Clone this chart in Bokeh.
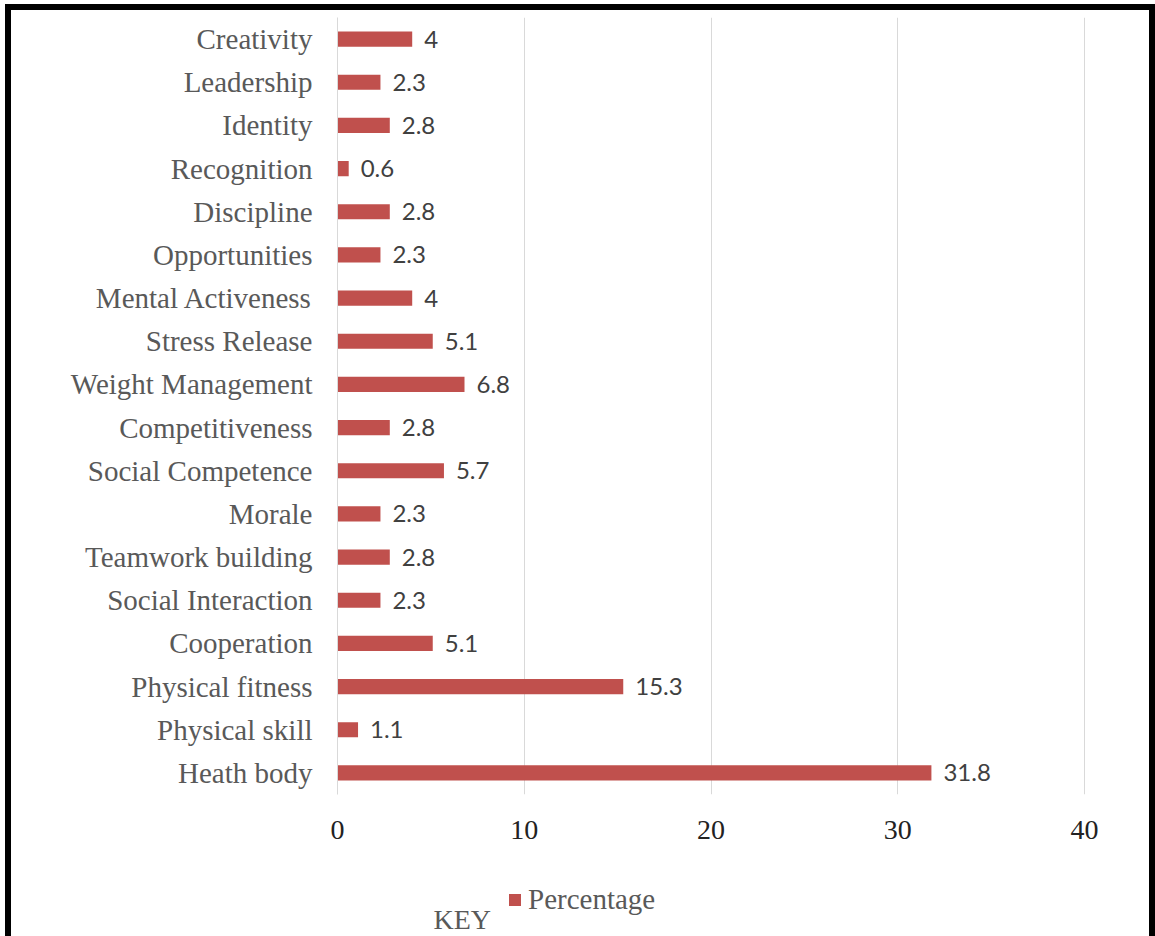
from bokeh.plotting import figure
from bokeh.layouts import column
from bokeh.models import (Range1d, FactorRange, FixedTicker, Legend, LegendItem,
                          Label, ColumnDataSource, LabelSet)
from bokeh.core.properties import value
from bokeh.embed import file_html
from bokeh.resources import INLINE

categories = ["Creativity", "Leadership", "Identity", "Recognition", "Discipline",
              "Opportunities", "Mental Activeness", "Stress Release", "Weight Management",
              "Competitiveness", "Social Competence", "Morale", "Teamwork building",
              "Social Interaction", "Cooperation", "Physical fitness", "Physical skill",
              "Heath body"]
percentages = [4, 2.3, 2.8, 0.6, 2.8, 2.3, 4, 5.1, 6.8, 2.8, 5.7, 2.3, 2.8, 2.3, 5.1,
               15.3, 1.1, 31.8]
x_ticks = [0, 10, 20, 30, 40]
series_name = "Percentage"
key_text = "KEY"

BAR = "#c0504d"
GRID = "#d9d9d9"
SERIF = "Liberation Serif"

src = ColumnDataSource(dict(cat=categories, val=percentages,
                            lab=[f"{v:g}" for v in percentages]))
xr = Range1d(0, 40.05)

p = figure(frame_width=748, frame_height=777, output_backend="svg", toolbar_location=None,
           y_range=FactorRange(factors=list(reversed(categories))), x_range=xr,
           min_border_left=326, min_border_right=64, min_border_top=7,
           min_border_bottom=60)
p.outline_line_color = None
p.background_fill_color = "white"
p.border_fill_color = "white"

bars = p.hbar(y="cat", right="val", left=0, height=0.35, source=src,
              fill_color=BAR, line_color=None)

labels = LabelSet(x="val", y="cat", text="lab", source=src, x_offset=12,
                  text_align="left", text_baseline="middle",
                  text_font=value("Lato"), text_font_size="24px", text_color="#404040")
p.add_layout(labels)

p.xgrid.grid_line_color = GRID
p.xgrid.ticker = FixedTicker(ticks=x_ticks)
p.ygrid.grid_line_color = None

p.xaxis.ticker = FixedTicker(ticks=x_ticks)
p.xaxis.axis_line_color = None
p.xaxis.major_tick_line_color = None
p.xaxis.minor_tick_line_color = None
p.xaxis.major_tick_out = 0
p.xaxis.major_label_standoff = 26
p.xaxis.major_label_text_font = SERIF
p.xaxis.major_label_text_font_size = "28px"
p.xaxis.major_label_text_color = "#222222"

p.yaxis.axis_line_color = GRID
p.yaxis.major_tick_line_color = None
p.yaxis.minor_tick_line_color = None
p.yaxis.major_tick_out = 0
p.yaxis.major_label_standoff = 25
p.yaxis.major_label_text_font = SERIF
p.yaxis.major_label_text_font_size = "29px"
p.yaxis.major_label_text_color = "#595959"

# key strip below the chart: legend + "KEY"
k = figure(frame_width=748, frame_height=90, output_backend="svg", toolbar_location=None,
           x_range=xr, y_range=Range1d(90, 0), x_axis_type=None, y_axis_type=None,
           min_border_left=326, min_border_right=64, min_border_top=0,
           min_border_bottom=0)
k.outline_line_color = None
k.grid.visible = False
k.background_fill_color = "white"
k.border_fill_color = "white"
# zero-size proxy glyph that only feeds the legend swatch
proxy = k.hbar(y=[0], right=[0], left=[0], height=0, fill_color=BAR, line_color=None)

legend = Legend(items=[LegendItem(label=series_name, renderers=[proxy])],
                location=(170, 28), margin=0, padding=0, glyph_width=15,
                glyph_height=15, label_standoff=6, border_line_color=None,
                background_fill_alpha=0, label_text_font=SERIF,
                label_text_font_size="29px", label_text_color="#595959")
k.add_layout(legend, "center")

key = Label(x=5.14, y=65, text=key_text, text_align="left", text_baseline="middle",
            text_font=SERIF, text_font_size="28px", text_color="#595959")
k.add_layout(key)

layout = column(p, k, spacing=0,
                styles={"border-left": "6px solid black", "border-top": "6px solid black",
                        "border-right": "6px solid black", "margin-left": "5px",
                        "margin-top": "4px", "background-color": "white"})

open("out.html", "w").write(file_html(layout, INLINE))
